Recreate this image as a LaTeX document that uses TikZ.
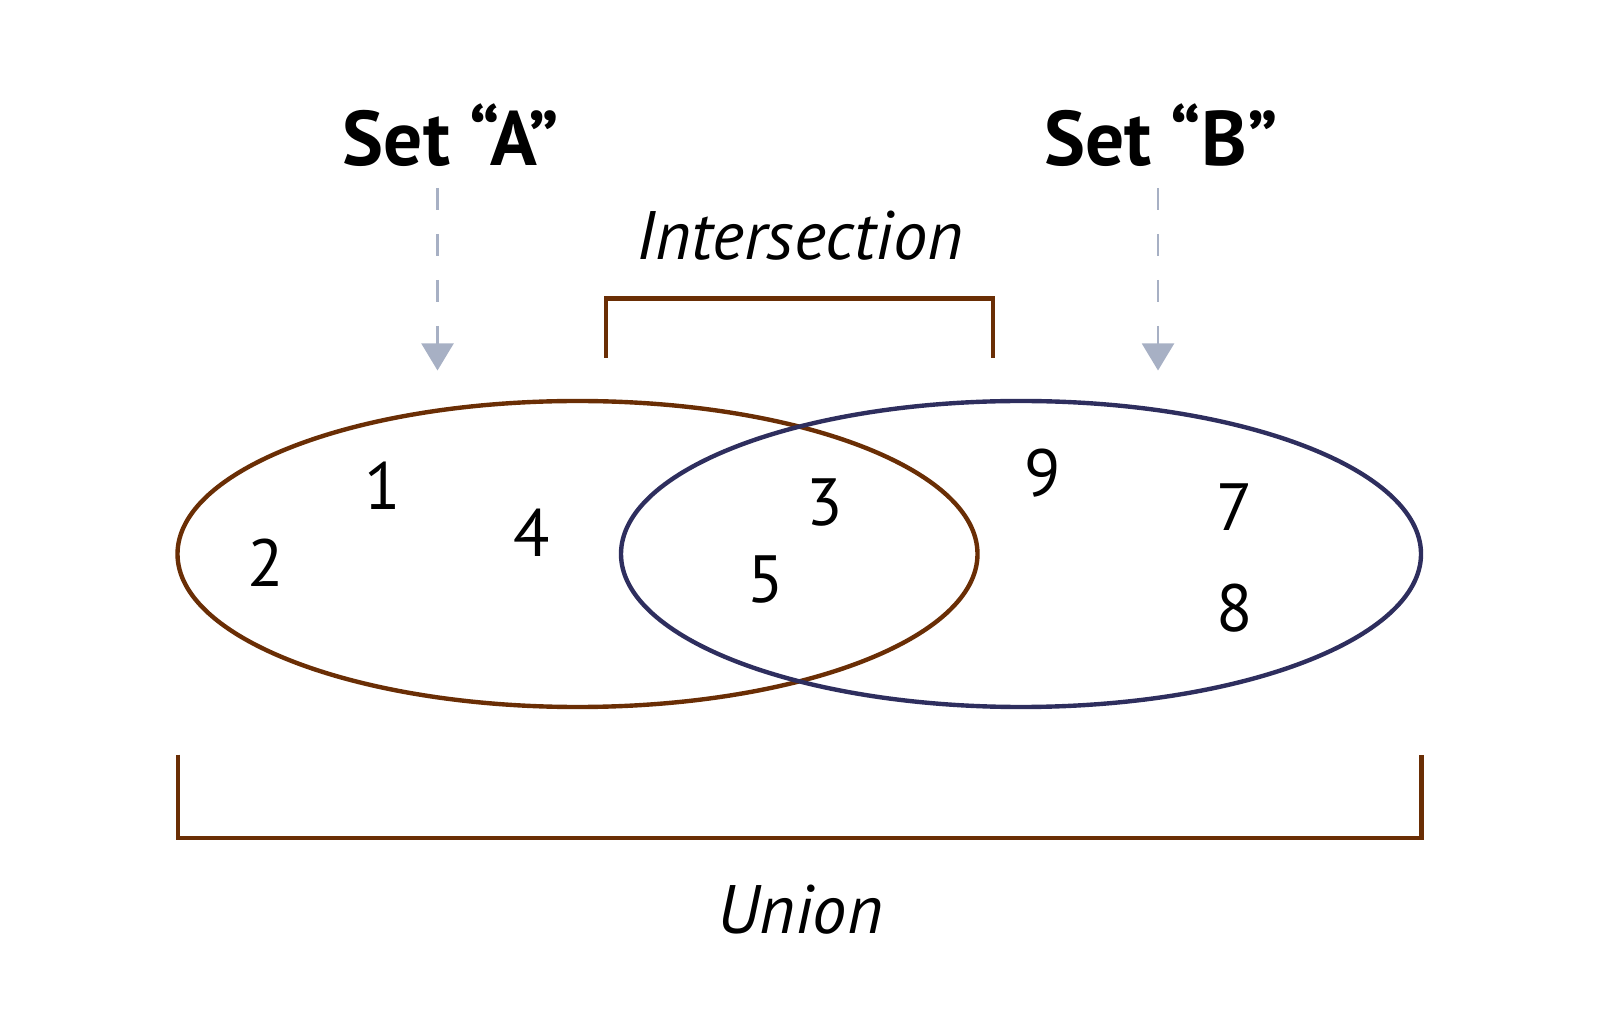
\documentclass[tikz,border=0pt]{standalone}
\usepackage{fontspec}
\setmainfont{PT Sans}
\usetikzlibrary{arrows.meta}
\definecolor{setbrown}{HTML}{6A2E05}
\definecolor{setblue}{HTML}{2E2E5E}
\definecolor{pointgray}{HTML}{A7B0C4}
\tikzset{
  setlabel/.style={font=\fontsize{22}{26}\selectfont\bfseries},
  brlabel/.style={font=\fontsize{19.5}{23}\selectfont\itshape},
  member/.style={font=\fontsize{19}{23}\selectfont},
  pointer/.style={pointgray, line width=0.6pt, dash pattern=on 0.22cm off 0.24cm,
    -{Triangle[width=0.32cm, length=0.27cm]}},
  bracket/.style={setbrown, line width=1.25pt}
}
\begin{document}
\begin{tikzpicture}
  \useasboundingbox (0,0) rectangle (16.14,-10.14);
  % the two sets
  \draw[setbrown, line width=1.25pt] (5.775,-5.54) ellipse [x radius=4cm, y radius=1.53cm];
  \draw[setblue, line width=1.25pt] (10.21,-5.54) ellipse [x radius=4cm, y radius=1.53cm];
  \node[setlabel] (setA) at (4.51,-1.35) {Set “A”};
  \node[setlabel] (setB) at (11.61,-1.35) {Set “B”};
  \coordinate (tipA) at (4.375,-3.705);
  \coordinate (tipB) at (11.58,-3.705);
  \draw[pointer] (4.375,-1.88) -- (tipA);
  \draw[pointer] (11.58,-1.88) -- (tipB);
  % brackets
  \draw[bracket] (6.06,-3.58) -- (6.06,-2.985) -- (9.93,-2.985) -- (9.93,-3.58);
  \node[brlabel] (inter) at (8.00,-2.36) {Intersection};
  \draw[bracket] (1.78,-7.545) -- (1.78,-8.38) -- (14.215,-8.38) -- (14.215,-7.545);
  \node[brlabel] (union) at (8.00,-9.10) {Union};
  % members
  \foreach \nx/\ny/\nv in {3.83/4.86/1, 2.655/5.63/2, 5.32/5.33/4, 8.245/5.03/3,
    7.66/5.795/5, 10.425/4.735/9, 12.35/5.075/7, 12.35/6.08/8}
    \node[member] (m\nv) at (\nx,-\ny) {\nv};
\end{tikzpicture}
\end{document}
